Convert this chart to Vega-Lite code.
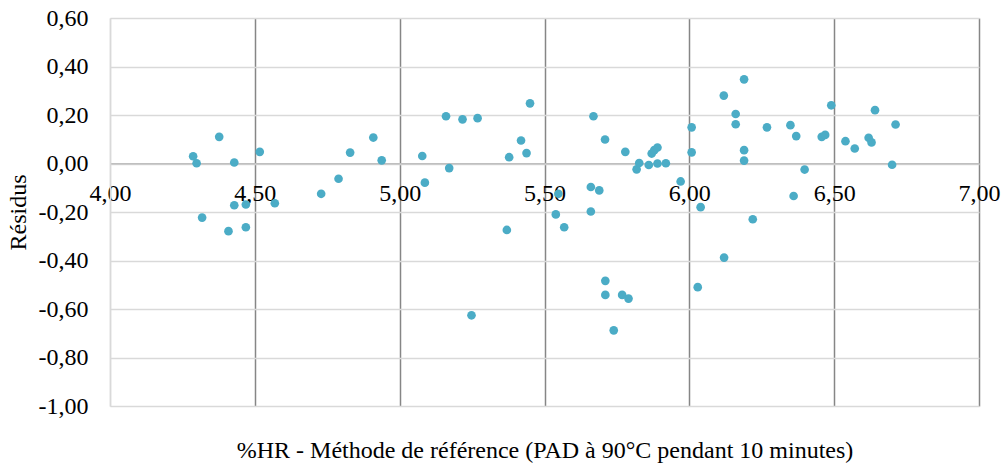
{
  "$schema": "https://vega.github.io/schema/vega-lite/v6.json",
  "width": 869,
  "height": 388,
  "autosize": {"type": "none"},
  "padding": {"left": 110, "top": 18, "right": 25, "bottom": 63},
  "background": "white",
  "config": {
    "view": {"stroke": null},
    "font": "Liberation Serif",
    "locale": {"number": {"decimal": ",", "thousands": " ", "grouping": [3], "currency": ["", " €"], "minus": "-"}},
    "axis": {"labelFont": "Liberation Serif", "labelFontSize": 24, "labelColor": "#000000"}
  },
  "data": {
    "values": [
      {"hr": 4.287, "res": 0.030},
      {"hr": 4.299, "res": 0.001},
      {"hr": 4.377, "res": 0.110},
      {"hr": 4.429, "res": 0.004},
      {"hr": 4.517, "res": 0.048},
      {"hr": 4.729, "res": -0.125},
      {"hr": 4.789, "res": -0.063},
      {"hr": 4.829, "res": 0.045},
      {"hr": 4.909, "res": 0.107},
      {"hr": 4.938, "res": 0.013},
      {"hr": 5.078, "res": 0.031},
      {"hr": 5.087, "res": -0.079},
      {"hr": 4.429, "res": -0.172},
      {"hr": 4.469, "res": -0.169},
      {"hr": 4.569, "res": -0.164},
      {"hr": 4.318, "res": -0.223},
      {"hr": 4.409, "res": -0.279},
      {"hr": 4.469, "res": -0.263},
      {"hr": 5.160, "res": 0.195},
      {"hr": 5.217, "res": 0.182},
      {"hr": 5.269, "res": 0.187},
      {"hr": 5.171, "res": -0.019},
      {"hr": 5.378, "res": 0.026},
      {"hr": 5.419, "res": 0.095},
      {"hr": 5.438, "res": 0.043},
      {"hr": 5.450, "res": 0.248},
      {"hr": 5.669, "res": 0.195},
      {"hr": 5.709, "res": 0.099},
      {"hr": 5.779, "res": 0.048},
      {"hr": 5.818, "res": -0.024},
      {"hr": 5.827, "res": 0.002},
      {"hr": 5.860, "res": -0.006},
      {"hr": 5.870, "res": 0.041},
      {"hr": 5.879, "res": 0.055},
      {"hr": 5.890, "res": 0.066},
      {"hr": 5.890, "res": 0.000},
      {"hr": 5.919, "res": 0.001},
      {"hr": 5.660, "res": -0.097},
      {"hr": 5.689, "res": -0.111},
      {"hr": 5.548, "res": -0.125},
      {"hr": 5.539, "res": -0.210},
      {"hr": 5.568, "res": -0.263},
      {"hr": 5.660, "res": -0.198},
      {"hr": 5.370, "res": -0.274},
      {"hr": 5.710, "res": -0.484},
      {"hr": 5.710, "res": -0.542},
      {"hr": 5.768, "res": -0.542},
      {"hr": 5.790, "res": -0.557},
      {"hr": 5.739, "res": -0.688},
      {"hr": 5.248, "res": -0.626},
      {"hr": 5.970, "res": -0.074},
      {"hr": 6.008, "res": 0.149},
      {"hr": 6.008, "res": 0.046},
      {"hr": 6.039, "res": -0.180},
      {"hr": 6.119, "res": 0.280},
      {"hr": 6.189, "res": 0.347},
      {"hr": 6.160, "res": 0.204},
      {"hr": 6.160, "res": 0.162},
      {"hr": 6.189, "res": 0.055},
      {"hr": 6.189, "res": 0.012},
      {"hr": 6.268, "res": 0.149},
      {"hr": 6.349, "res": 0.158},
      {"hr": 6.369, "res": 0.113},
      {"hr": 6.398, "res": -0.025},
      {"hr": 6.360, "res": -0.134},
      {"hr": 6.457, "res": 0.110},
      {"hr": 6.469, "res": 0.118},
      {"hr": 6.490, "res": 0.240},
      {"hr": 6.539, "res": 0.092},
      {"hr": 6.571, "res": 0.062},
      {"hr": 6.619, "res": 0.106},
      {"hr": 6.629, "res": 0.087},
      {"hr": 6.641, "res": 0.220},
      {"hr": 6.700, "res": -0.005},
      {"hr": 6.712, "res": 0.161},
      {"hr": 6.219, "res": -0.230},
      {"hr": 6.120, "res": -0.388},
      {"hr": 6.029, "res": -0.510}
    ]
  },
  "mark": {"type": "point", "filled": true, "shape": "circle", "size": 75, "color": "#4BACC6", "opacity": 1},
  "encoding": {
    "x": {
      "field": "hr",
      "type": "quantitative",
      "scale": {"domain": [4, 7], "nice": false, "zero": false},
      "axis": {
        "orient": "bottom",
        "offset": -242.8,
        "values": [4, 4.5, 5, 5.5, 6, 6.5, 7],
        "format": ".2f",
        "labelFont": "Liberation Serif",
        "labelFontSize": 24,
        "labelColor": "#000000",
        "labelPadding": 18,
        "labelOverlap": false,
        "labelFlush": false,
        "labelBound": false,
        "ticks": false,
        "domain": true,
        "domainColor": "#bfbfbf",
        "domainWidth": 1.5,
        "grid": true,
        "gridColor": {"condition": {"test": "datum.value == 4", "value": "#d9d9d9"}, "value": "#868686"},
        "gridWidth": 1.5,
        "title": "%HR - Méthode de référence (PAD à 90°C pendant 10 minutes)",
        "titleFont": "Liberation Serif",
        "titleFontSize": 24,
        "titleFontWeight": "normal",
        "titleColor": "#000000",
        "titleX": 434.5,
        "titleY": 287,
        "titleAlign": "center",
        "titleBaseline": "middle"
      }
    },
    "y": {
      "field": "res",
      "type": "quantitative",
      "scale": {"domain": [-1, 0.6], "nice": false, "zero": false},
      "axis": {
        "values": [-1, -0.8, -0.6, -0.4, -0.2, 0, 0.2, 0.4, 0.6],
        "format": ".2f",
        "labelFont": "Liberation Serif",
        "labelFontSize": 24,
        "labelColor": "#000000",
        "labelPadding": 22,
        "ticks": false,
        "domain": true,
        "domainColor": "#d9d9d9",
        "domainWidth": 1.5,
        "grid": true,
        "gridColor": "#d9d9d9",
        "gridWidth": 1.5,
        "title": "Résidus",
        "titleFont": "Liberation Serif",
        "titleFontSize": 24,
        "titleFontWeight": "normal",
        "titleColor": "#000000",
        "titleAngle": 270,
        "titleX": -92,
        "titleY": 194,
        "titleAlign": "center",
        "titleBaseline": "middle"
      }
    }
  }
}
